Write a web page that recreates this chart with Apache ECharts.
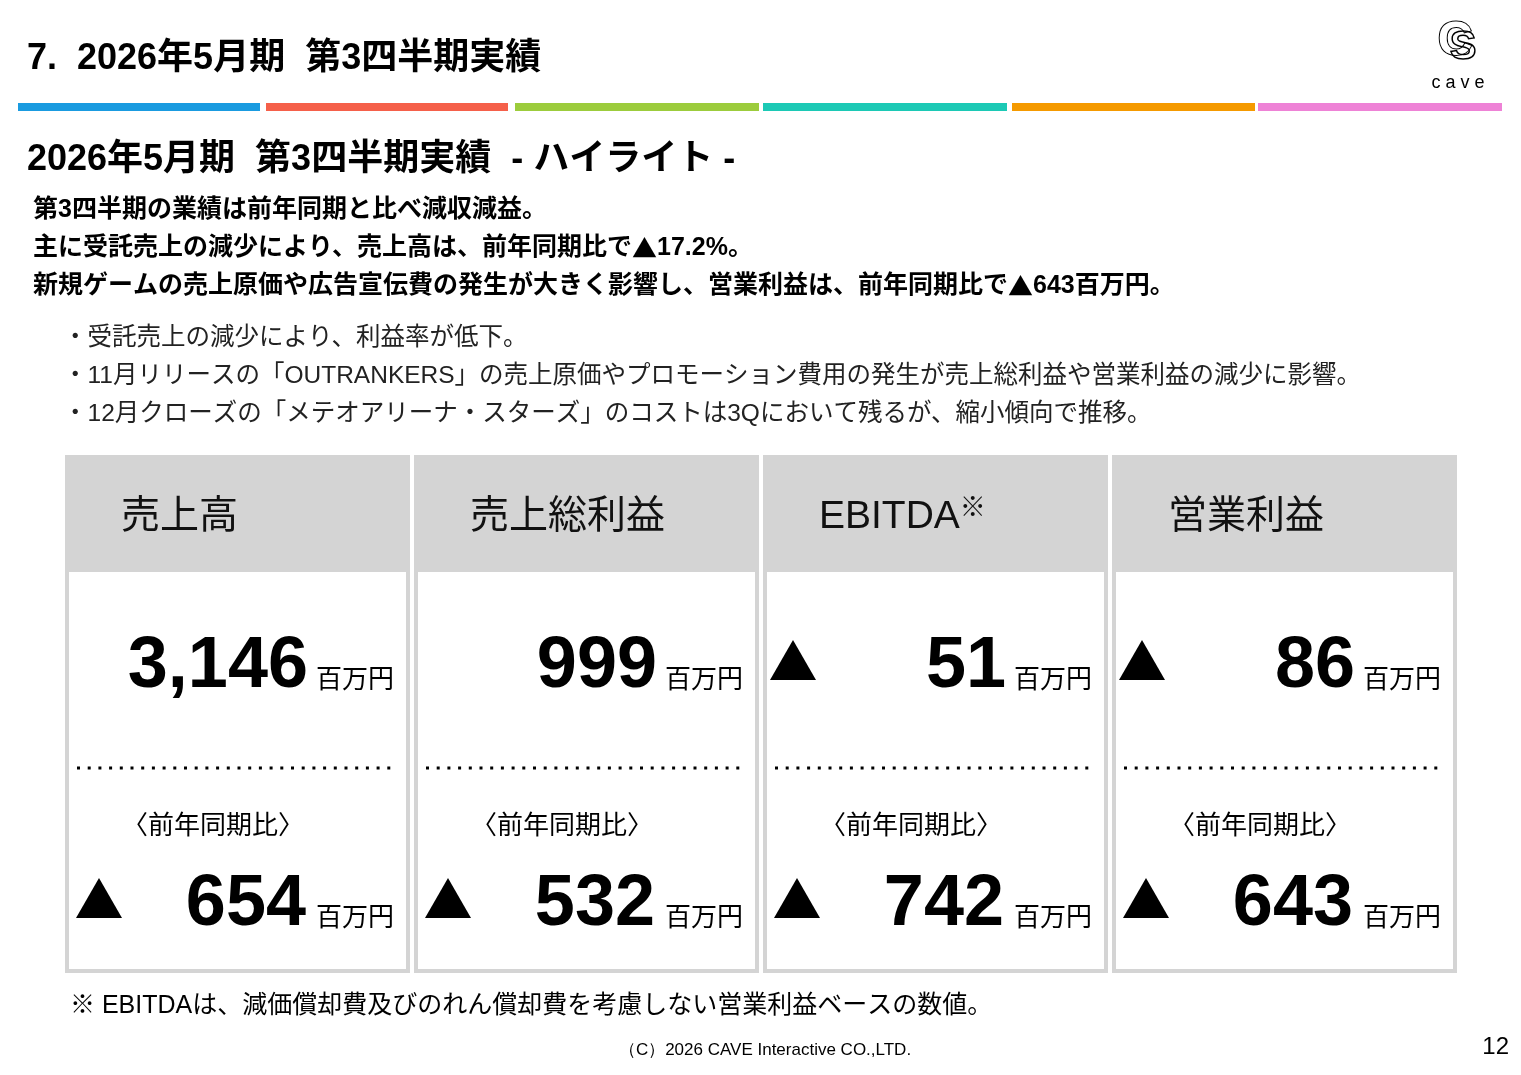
<!DOCTYPE html>
<html><head><meta charset="utf-8">
<script src="https://cdn.jsdelivr.net/npm/echarts@6/dist/echarts.min.js"></script>
<style>html,body{margin:0;padding:0;background:#fff}#c{width:1521px;height:1075px}</style>
</head><body><div id="c"></div>
<script>
const titles = ['売上高', '売上総利益', 'EBITDA', '営業利益'];
const titleMarks = ['', '', '※', ''];
const values = ['3,146', '999', '51', '86'];
const valueNegative = [false, false, true, true];
const yoyValues = ['654', '532', '742', '643'];
const yoyNegative = [true, true, true, true];
const unit = '百万円';
const yoyLabel = '〈前年同期比〉';
const barColors = ['#1a9be0', '#f5604a', '#9ccc3c', '#1cc9b5', '#f59a00', '#ee82d6'];
const boldLines = ['第3四半期の業績は前年同期と比べ減収減益。', '主に受託売上の減少により、売上高は、前年同期比で▲17.2%。', '新規ゲームの売上原価や広告宣伝費の発生が大きく影響し、営業利益は、前年同期比で▲643百万円。'];
const bullets = ['・受託売上の減少により、利益率が低下。', '・11月リリースの「OUTRANKERS」の売上原価やプロモーション費用の発生が売上総利益や営業利益の減少に影響。', '・12月クローズの「メテオアリーナ・スターズ」のコストは3Qにおいて残るが、縮小傾向で推移。'];

const JP = "'Liberation Sans','Noto Sans CJK JP',sans-serif";
const CJK = "'Noto Sans CJK JP',sans-serif";
const NUM = "'Liberation Sans','DejaVu Sans',sans-serif";
const g = [];
function txt(t, x, y, font, opt) {
  g.push(Object.assign({type:'text', style:Object.assign({text:t, x:x, y:y, font:font, fill:'#000', textAlign:'left', textVerticalAlign:'middle'}, opt||{})}));
}
function richTri(t, x, y, size, bold) {
  const f = (bold ? 'bold ' : '') + size + 'px ';
  g.push({type:'text', style:{text:t.replace(/▲/g, '{t|▲}'), x:x, y:y, font:f + JP, fill:'#000', textVerticalAlign:'middle',
    rich:{t:{font:f + CJK, fill:'#000'}}}});
}
txt('7.  2026年5月期  第3四半期実績', 27, 59, 'bold 36px ' + JP);
const segs = [[18,260],[266,508],[515,759],[763,1007],[1012,1255],[1258,1502]];
segs.forEach((s,i)=>g.push({type:'rect', shape:{x:s[0], y:103, width:s[1]-s[0], height:8}, style:{fill:barColors[i]}}));
txt('c a v e', 1458, 83, '18px ' + NUM, {textAlign:'center'});
g.push({type:'text', style:{text:'C', x:1455, y:42, font:'bold 48px ' + NUM, fill:'#fff', stroke:'#000', lineWidth:2, textAlign:'center', textVerticalAlign:'middle'}});
g.push({type:'text', style:{text:'S', x:1463, y:48, font:'bold 40px ' + NUM, fill:'rgba(0,0,0,0)', stroke:'#000', lineWidth:1.5, textAlign:'center', textVerticalAlign:'middle'}});

txt('2026年5月期  第3四半期実績  - ハイライト -', 27, 160, 'bold 36px ' + JP);
boldLines.forEach((t,i)=>richTri(t, 33, 210 + i*38, 25, true));
bullets.forEach((t,i)=>txt(t, 63, 338 + i*38, '24.5px ' + JP, {fill:'#222'}));

const lefts = [65, 414, 763, 1112];
function tri(x, yTop) {
  g.push({type:'polygon', shape:{points:[[x+23,yTop],[x+46,yTop+40],[x,yTop+40]]}, style:{fill:'#000'}});
}
lefts.forEach((L,i)=>{
  g.push({type:'rect', shape:{x:L, y:455, width:345, height:518}, style:{fill:'#d4d4d4'}});
  g.push({type:'rect', shape:{x:L+4, y:572, width:337, height:397}, style:{fill:'#fff'}});
  g.push({type:'text', style:{text:titles[i] + (titleMarks[i] ? '{s|' + titleMarks[i] + '}' : ''), x:L+56, y:517, font:'39px ' + JP, fill:'#111', textVerticalAlign:'middle', rich:{s:{font:'26px ' + JP, fill:'#111', verticalAlign:'top', padding:[0,0,16,0]}}}});
  txt(values[i], L+243, 667, 'bold 72px ' + NUM, {textAlign:'right'});
  txt(unit, L+251, 681, '26px ' + JP);
  if (valueNegative[i]) tri(L+7, 640);
  g.push({type:'line', shape:{x1:L+12, y1:768, x2:L+332, y2:768}, style:{stroke:'#000', lineWidth:3, lineDash:[3,7.7]}});
  txt(yoyLabel, L+57, 827, '26px ' + JP);
  txt(yoyValues[i], L+241, 905, 'bold 72px ' + NUM, {textAlign:'right'});
  txt(unit, L+251, 919, '26px ' + JP);
  if (yoyNegative[i]) tri(L+11, 878);
});
txt('※ EBITDAは、減価償却費及びのれん償却費を考慮しない営業利益ベースの数値。', 70, 1006, '25px ' + JP);
txt('（C）2026 CAVE Interactive CO.,LTD.', 765, 1050, '17px ' + NUM, {textAlign:'center'});
txt('12', 1509, 1047, '24px ' + NUM, {textAlign:'right'});

const chart = echarts.init(document.getElementById('c'));
chart.setOption({backgroundColor:'#fff', animation:false, graphic:g});
</script></body></html>
